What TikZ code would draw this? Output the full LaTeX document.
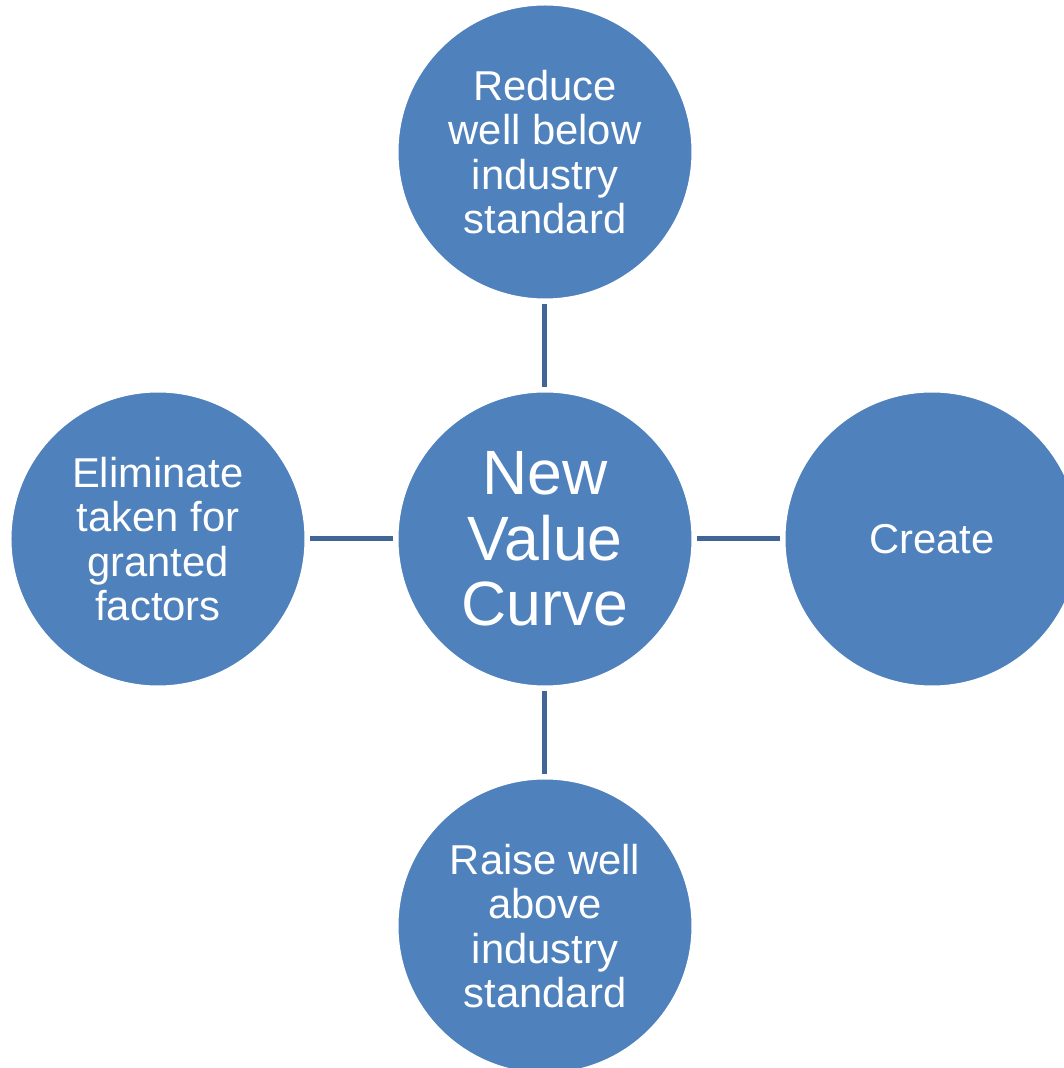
\documentclass[tikz,border=0pt]{standalone}
\usepackage{fontspec}
\setmainfont{Liberation Sans}
\usepackage{tikz}
\newcommand{\bubblesize}{7.4cm}
\newcommand{\bubblegap}{2.2cm}
\definecolor{bubbleBlue}{RGB}{79,129,189}
\definecolor{linkBlue}{RGB}{65,101,150}
\usetikzlibrary{positioning}
\tikzset{
  node distance=\bubblegap,
  bubble/.style={draw=white,line width=0.075cm,fill=bubbleBlue,shape=circle,minimum size=\bubblesize,inner sep=0,text=white,align=center,font=\fontsize{29.7}{31.5}\selectfont},
  hub/.style={bubble,font=\fontsize{44.5}{46.5}\selectfont},
  link/.style={draw=linkBlue,line width=0.125cm,shorten <=0.06cm,shorten >=0.06cm},
}
\begin{document}
\begin{tikzpicture}
  \useasboundingbox (-13.625,-13.225) rectangle (12.95,13.475);
  \node (hub) [hub] {New\\Value\\Curve};
  \node (reduce) [bubble,above=of hub] {Reduce\\well below\\industry\\standard};
  \node (raise) [bubble,below=of hub] {Raise well\\above\\industry\\standard};
  \node (elim) [bubble,left=of hub] {Eliminate\\taken for\\granted\\factors};
  \node (create) [bubble,right=of hub] {Create};
  \path [link] (hub) -- (reduce);
  \path [link] (hub) -- (raise);
  \path [link] (hub) -- (elim);
  \path [link] (hub) -- (create);
\end{tikzpicture}
\end{document}
